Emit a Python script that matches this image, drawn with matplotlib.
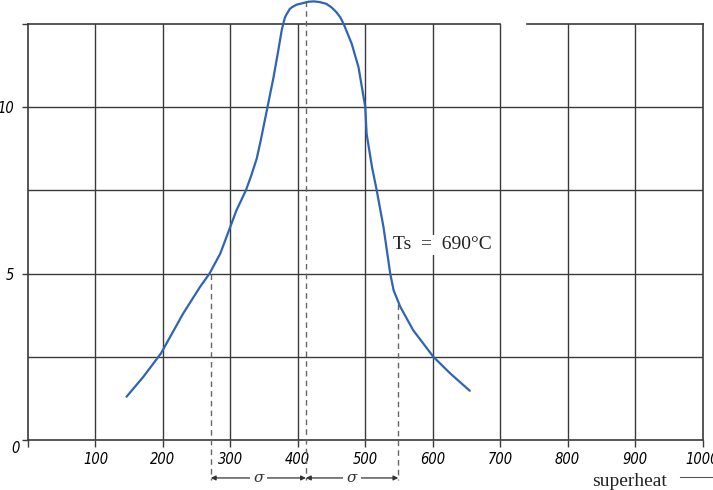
"""
Superheat distribution curve with sigma markers, redrawn from a scanned figure.
"""

import matplotlib
matplotlib.use("Agg")
import matplotlib.pyplot as plt
from matplotlib.lines import Line2D

# curve: superheat (x) vs. frequency (y)
superheat = [146, 171, 197, 230, 255, 269, 285, 297, 309, 323, 331, 339, 345,
             351, 356, 364, 371, 376, 378.5, 381, 383.5, 386, 388, 391, 398, 408,
             416, 424, 432, 442, 450, 457, 463, 468, 474, 480, 490, 500, 502,
             510, 517, 527, 532, 537, 542, 552, 571, 601, 626, 655]
freq = [1.30, 1.90, 2.60, 3.80, 4.60, 5.00, 5.60, 6.25, 6.90, 7.50, 7.95, 8.45, 9.00,
        9.60, 10.1, 10.9, 11.7, 12.3, 12.52, 12.7, 12.8, 12.88, 12.95, 13.0, 13.08, 13.13,
        13.17, 13.18, 13.16, 13.11, 13.0, 12.86, 12.7, 12.5, 12.2, 11.9, 11.2, 10.0, 9.2,
        8.2, 7.5, 6.4, 5.7, 5.0, 4.5, 4.0, 3.3, 2.5, 2.0, 1.48]

# sigma markers: left edge, mean, right edge (and where the dashes start)
sigma_x = [271, 412, 549]
sigma_top = [5.0, 13.2, 4.1]

x_ticks = [0, 100, 200, 300, 400, 500, 600, 700, 800, 900, 1000]
x_labels = ["", "100", "200", "300", "400", "500", "600", "700", "800", "900", "1000"]
y_ticks = [0, 5, 10, 12.5]
y_labels = ["", "5", "10", ""]
h_grid = [2.5, 5, 7.5, 10]
v_grid = [100, 200, 300, 400, 500, 600, 700, 800, 900]

label_text = "Ts  =  690°C"
GRID = "#3a3a3a"
BLUE = "#2f64b4"

fig = plt.figure(figsize=(7.13, 4.9), dpi=100)
ax = fig.add_axes([0.0393, 0.102, 0.946, 0.849])
ax.set_xlim(0, 1000)
ax.set_ylim(0, 12.5)

tick_font = dict(family=["DejaVu Sans"], size=10.5, style="italic",
                 stretch="condensed")

# grid drawn by hand so the top line can keep its gap
for y in h_grid:
    ax.axhline(y, color=GRID, lw=1.0, zorder=1)
for x in v_grid:
    ax.axvline(x, color=GRID, lw=1.0, zorder=1)
ax.axhline(12.5, xmin=0, xmax=0.70, color=GRID, lw=1.2, clip_on=False, zorder=1)
ax.axhline(12.5, xmin=0.74, xmax=1.0, color=GRID, lw=1.2, clip_on=False, zorder=1)

for side in ["left", "right", "bottom"]:
    ax.spines[side].set_color(GRID)
    ax.spines[side].set_linewidth(1.2)
ax.spines["top"].set_visible(False)

ax.set_xticks(x_ticks)
ax.set_xticklabels(x_labels, fontdict=tick_font)
ax.set_yticks(y_ticks)
ax.set_yticklabels(y_labels, fontdict=tick_font)
ax.tick_params(axis="x", direction="out", length=5, width=1.0, color=GRID, pad=3.5)
ax.tick_params(axis="y", direction="out", length=4, width=1.0, color=GRID, pad=6)
ax.annotate("0", xy=(0, 0), xytext=(-9, -6), textcoords="offset points",
            ha="center", va="center", **tick_font)

# the curve
ax.plot(superheat, freq, color=BLUE, lw=1.6, clip_on=False, zorder=4,
        solid_joinstyle="round", solid_capstyle="round")

# dashed sigma lines, running below the axis
arrow_y = -1.14
for x, top in zip(sigma_x, sigma_top):
    ax.plot([x, x], [top, arrow_y - 0.05], color="#666666", lw=1.0,
            ls=(0, (4, 3)), clip_on=False, zorder=3)

for x0, x1 in [(sigma_x[0], sigma_x[1]), (sigma_x[1], sigma_x[2])]:
    ax.annotate("", xy=(x0, arrow_y), xytext=(x1, arrow_y),
                arrowprops=dict(arrowstyle="<|-|>", color="#333333", lw=0.9,
                                mutation_scale=7, shrinkA=0, shrinkB=0),
                annotation_clip=False)
    ax.text((x0 + x1) / 2, arrow_y, "σ", ha="center", va="center", fontsize=11,
            family="DejaVu Serif", style="italic", color="#333333",
            bbox=dict(fc="white", ec="none", pad=2.5), clip_on=False, zorder=5)

ax.text(541, 5.86, label_text, ha="left", va="center", fontsize=14,
        family="Liberation Serif", color="#222222",
        bbox=dict(fc="white", ec="none", pad=1), zorder=5)

fig.text(0.830, 0.009, "superheat", ha="left", va="baseline", fontsize=14,
         family="Liberation Serif", color="#222222")
fig.add_artist(Line2D([0.954, 1.0], [0.027, 0.027], color="#555555", lw=0.8))

fig.savefig("out.png", dpi=100)
